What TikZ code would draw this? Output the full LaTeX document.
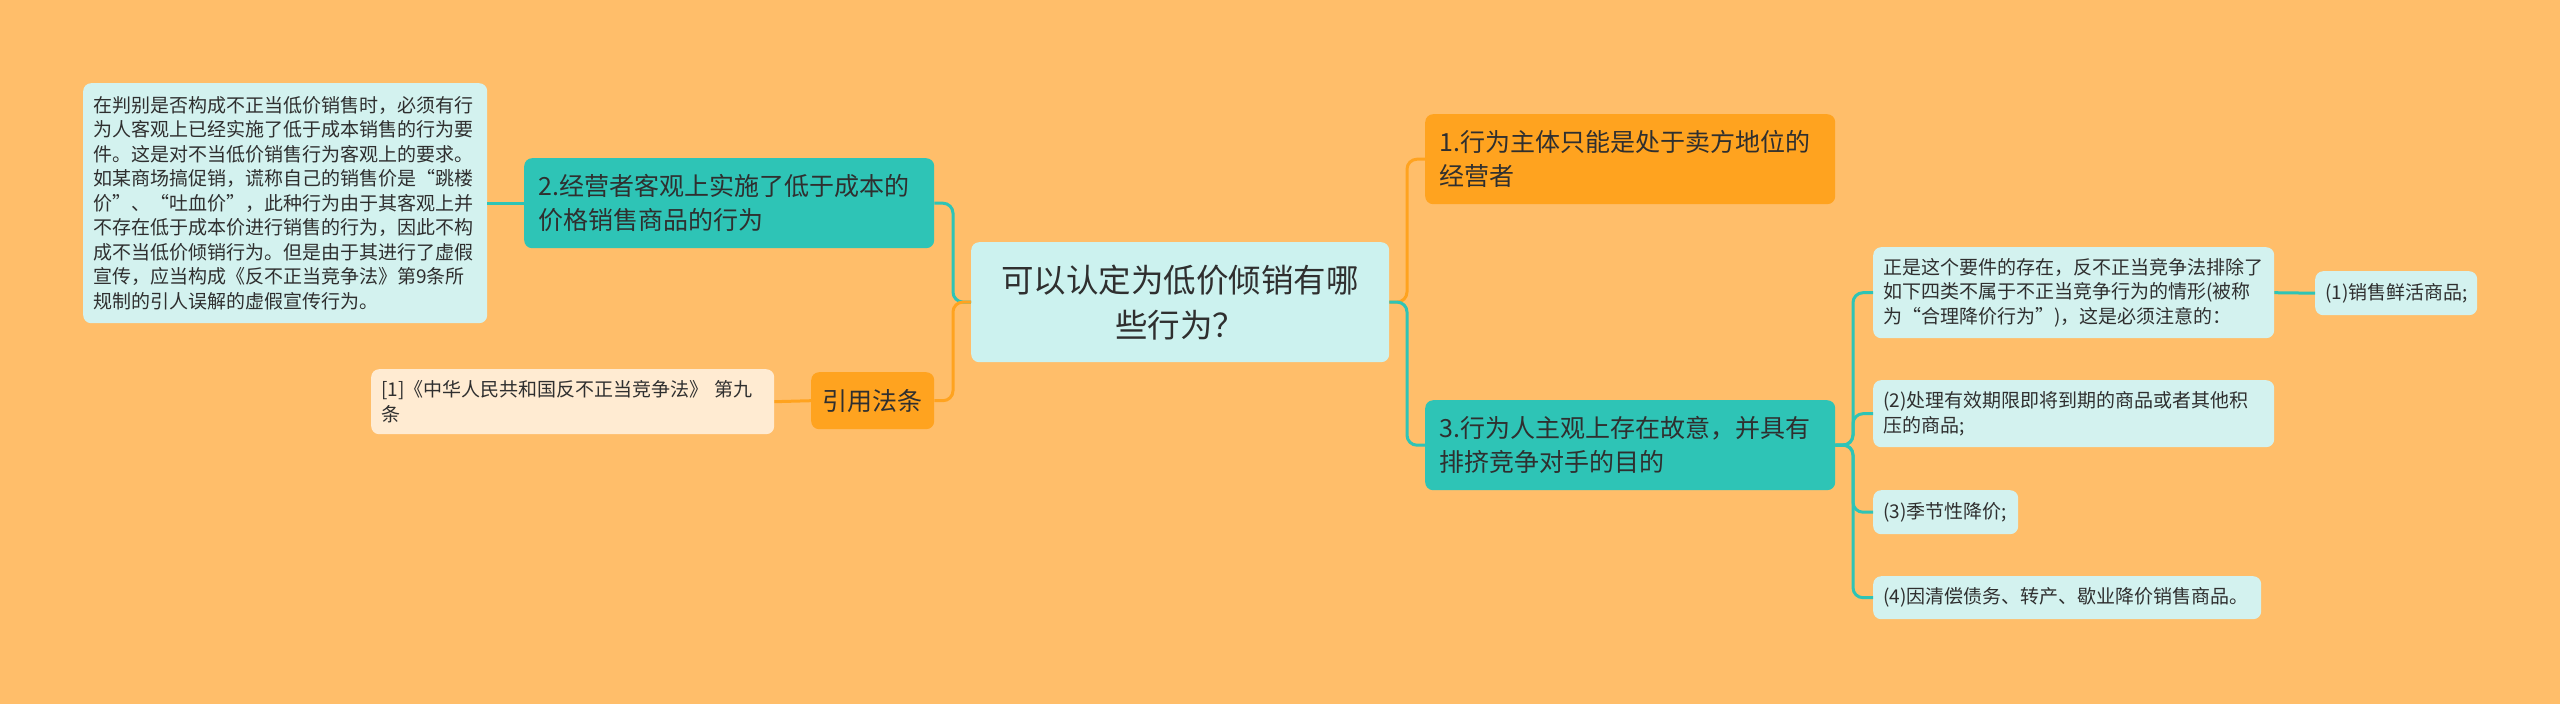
\documentclass[tikz,border=0pt]{standalone}
\usepackage{fontspec}
\setmainfont{Noto Sans CJK SC}
\definecolor{bg}{HTML}{FFBE6A}
\definecolor{teal}{HTML}{2EC4B6}
\definecolor{orng}{HTML}{FFA31F}
\definecolor{lcyan}{HTML}{D3F2EF}
\definecolor{ccyan}{HTML}{CCF2EF}
\definecolor{cream}{HTML}{FFEBD2}
\definecolor{txt}{HTML}{2F2F2F}
\tikzset{
  mmbox/.style={rounded corners=8pt, inner ysep=0pt, anchor=north west, align=left, text=txt},
  smallfont/.style={font=\fontsize{19}{24.5}\selectfont, inner xsep=10pt},
  midfont/.style={font=\fontsize{25}{34}\selectfont, inner xsep=14pt},
  tline/.style={draw=teal, line width=3pt, rounded corners=10pt},
  oline/.style={draw=orng, line width=3pt, rounded corners=10pt},
}
\begin{document}
\begin{tikzpicture}[x=1pt,y=-1pt]
\path[fill=bg] (0,0) rectangle (2560,704);
% central
\node[mmbox, fill=ccyan, align=center, font=\fontsize{32.5}{45}\selectfont, inner xsep=14pt, text width=390pt, minimum height=120pt] (c) at (971,242) {可以认定为低价倾销有哪\\些行为？};
% left side
\node[mmbox, midfont, fill=teal, text width=382pt, minimum height=90pt] (n2) at (524,158) {2.经营者客观上实施了低于成本的\\价格销售商品的行为};
\node[mmbox, smallfont, fill=lcyan, text width=384pt, minimum height=240pt] (ld) at (83,83) {在判别是否构成不正当低价销售时，必须有行\\为人客观上已经实施了低于成本销售的行为要\\件。这是对不当低价销售行为客观上的要求。\\如某商场搞促销，谎称自己的销售价是“跳楼\\价”、“吐血价”，此种行为由于其客观上并\\不存在低于成本价进行销售的行为，因此不构\\成不当低价倾销行为。但是由于其进行了虚假\\宣传，应当构成《反不正当竞争法》第9条所\\规制的引人误解的虚假宣传行为。};
\node[mmbox, font=\fontsize{25}{34}\selectfont, inner xsep=11.5pt, align=center, fill=orng, text width=100pt, minimum height=57pt] (yy) at (811,372) {引用法条};
\node[mmbox, smallfont, fill=cream, text width=383pt, minimum height=65pt] (ref) at (371,369) {[1]《中华人民共和国反不正当竞争法》 第九\\条};
% right side
\node[mmbox, midfont, fill=orng, text width=382pt, minimum height=90pt] (n1) at (1425,114) {1.行为主体只能是处于卖方地位的\\经营者};
\node[mmbox, midfont, fill=teal, text width=382pt, minimum height=90pt] (n3) at (1425,400) {3.行为人主观上存在故意，并具有\\排挤竞争对手的目的};
\node[mmbox, smallfont, fill=lcyan, text width=381pt, minimum height=91pt] (rd) at (1873,247) {正是这个要件的存在，反不正当竞争法排除了\\如下四类不属于不正当竞争行为的情形(被称\\为“合理降价行为”)，这是必须注意的：};
\node[mmbox, smallfont, fill=lcyan, text width=142pt, minimum height=44pt] (one) at (2315,271) {(1)销售鲜活商品;};
\node[mmbox, smallfont, fill=lcyan, text width=381pt, minimum height=67pt] (two) at (1873,380) {(2)处理有效期限即将到期的商品或者其他积\\压的商品;};
\node[mmbox, smallfont, fill=lcyan, text width=125pt, minimum height=44pt] (three) at (1873,490) {(3)季节性降价;};
\node[mmbox, smallfont, fill=lcyan, text width=368pt, minimum height=43pt] (four) at (1873,576) {(4)因清偿债务、转产、歇业降价销售商品。};
% trunks
\coordinate (lt) at (953,302);
\coordinate (rt) at (1407,302);
\coordinate (r3) at (1853,445);
% connectors
\draw[tline] (c.west) -- (lt) |- (n2.east);
\draw[oline] (c.west) -- (lt) |- (yy.east);
\draw[tline] (n2.west) -- (ld.east);
\draw[oline] (yy.west) -- (ref.east);
\draw[oline] (c.east) -- (rt) |- (n1.west);
\draw[tline] (c.east) -- (rt) |- (n3.west);
\draw[tline] (n3.east) -- (r3) |- (rd.west);
\draw[tline] (n3.east) -- (r3) |- (two.west);
\draw[tline] (n3.east) -- (r3) |- (three.west);
\draw[tline] (n3.east) -- (r3) |- (four.west);
\draw[tline] (rd.east) -- (one.west);
\end{tikzpicture}
\end{document}
